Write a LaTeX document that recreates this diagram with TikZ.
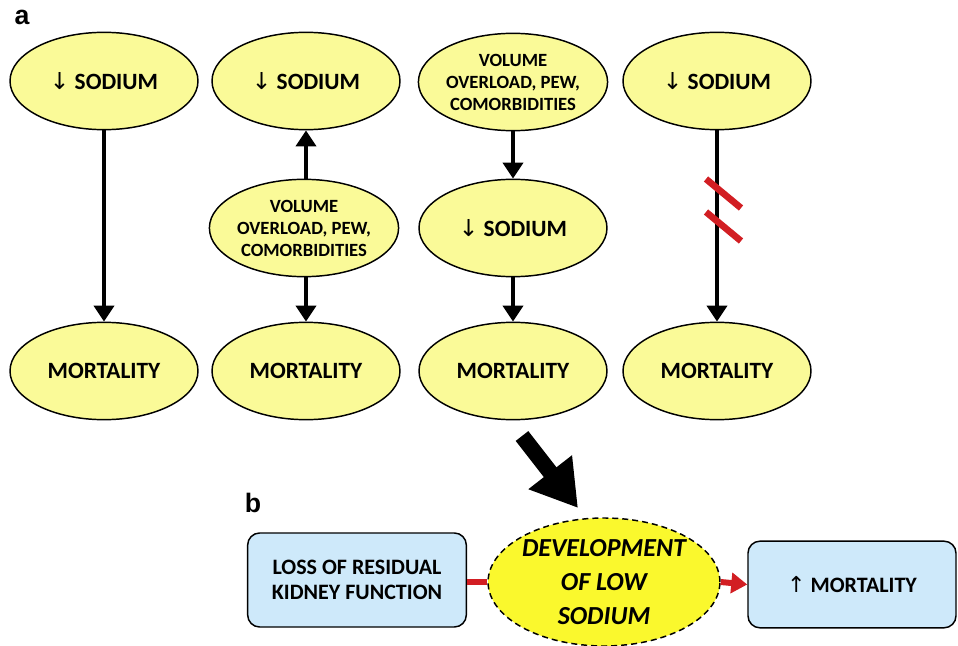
\documentclass[tikz,border=0pt]{standalone}
\usepackage{fontspec}
\setmainfont{Carlito}
\setsansfont{Liberation Sans}
\newfontfamily\arrowfont{DejaVu Sans}
\usetikzlibrary{shapes.geometric,arrows.meta}

\definecolor{paleyellow}{RGB}{250,250,152}
\definecolor{brightyellow}{RGB}{250,248,45}
\definecolor{paleblue}{RGB}{206,233,250}
\definecolor{linkred}{RGB}{210,30,35}

\begin{document}
\begin{tikzpicture}[x=0.75pt, y=-0.75pt,
  oval/.style={ellipse, draw=black, line width=1.1pt, fill=paleyellow,
    inner sep=0pt, minimum width=141pt, minimum height=73pt,
    align=center, font=\fontsize{17.5}{21}\selectfont\bfseries},
  causebox/.style={oval, minimum width=136pt,
    font=\fontsize{14}{16.5}\selectfont\bfseries},
  link/.style={line width=3pt, -{Triangle[width=15pt, length=12pt]}},
  panelbox/.style={draw=black, line width=1.1pt, fill=paleblue,
    rounded corners=9pt, inner sep=0pt, align=center,
    font=\fontsize{16.5}{19}\selectfont\bfseries},
  redlink/.style={linkred, line width=4.5pt},
  slash/.style={linkred, line width=5pt},
  tag/.style={font=\sffamily\bfseries\fontsize{20}{24}\selectfont}]

  \useasboundingbox (0,0) rectangle (958,646);

  \def\down{{\arrowfont\mdseries ↓}}
  \def\up{{\arrowfont\mdseries ↑}}

  % Panel a — four causal models
  \node[tag] (taga) at (22,17) {a};

  % column 1: sodium directly to mortality
  \node[oval] (sod1)  at (104,81)  {\down\ SODIUM};
  \node[oval] (mort1) at (104,371) {MORTALITY};
  \draw[link] (sod1) -- (mort1);

  % column 2: common cause
  \node[oval]     (sod2)  at (306,81)  {\down\ SODIUM};
  \node[causebox] (vol2)  at (304,228) {VOLUME\\OVERLOAD, PEW,\\COMORBIDITIES};
  \node[oval]     (mort2) at (306,371) {MORTALITY};
  \draw[link] (vol2.north -| sod2) -- (sod2);
  \draw[link] (vol2.south -| mort2) -- (mort2);

  % column 3: mediator
  \node[causebox, minimum width=141pt] (vol3) at (513,82)  {VOLUME\\OVERLOAD, PEW,\\COMORBIDITIES};
  \node[oval] (sod3)  at (513,228) {\down\ SODIUM};
  \node[oval] (mort3) at (513,371) {MORTALITY};
  \draw[link] (vol3) -- (sod3);
  \draw[link] (sod3) -- (mort3);

  % column 4: no link
  \node[oval] (sod4)  at (717,81)  {\down\ SODIUM};
  \node[oval] (mort4) at (717,371) {MORTALITY};
  \draw[link] (sod4) -- (mort4);
  \foreach \yy in {194,227}{
    \draw[slash] (706,\yy-15) -- (741,\yy+14);
  }

  % Panel b — pathway
  \node[tag] (tagb) at (253,503) {b};

  \node[panelbox, minimum width=164pt, minimum height=70.5pt] (loss) at (357,580)
    {LOSS OF RESIDUAL\\KIDNEY FUNCTION};
  \node[ellipse, draw=black, line width=1.1pt, dashed, dash pattern=on 4.5pt off 3pt,
    fill=brightyellow, inner sep=0pt, minimum width=166pt, minimum height=96pt,
    align=center, font=\fontsize{19.5}{25.5}\selectfont\bfseries\itshape]
    (devel) at (604,582) {DEVELOPMENT\\OF LOW\\SODIUM};
  \node[panelbox, minimum width=156pt, minimum height=65pt] (highmort) at (852,584.5)
    {\up\ MORTALITY};

  \draw[redlink] (loss.east |- devel.west) -- (devel.west);
  \draw[redlink, -{Triangle[width=15pt, length=12pt]}] (devel.east) -- (highmort.west);

  % big arrow from panel a into panel b
  \coordinate (bigtail) at (522,436);
  \coordinate (bigtip)  at (578,508);
  \draw[line width=12pt, -{Triangle[width=39pt, length=34pt]}] (bigtail) -- (bigtip);

\end{tikzpicture}
\end{document}
